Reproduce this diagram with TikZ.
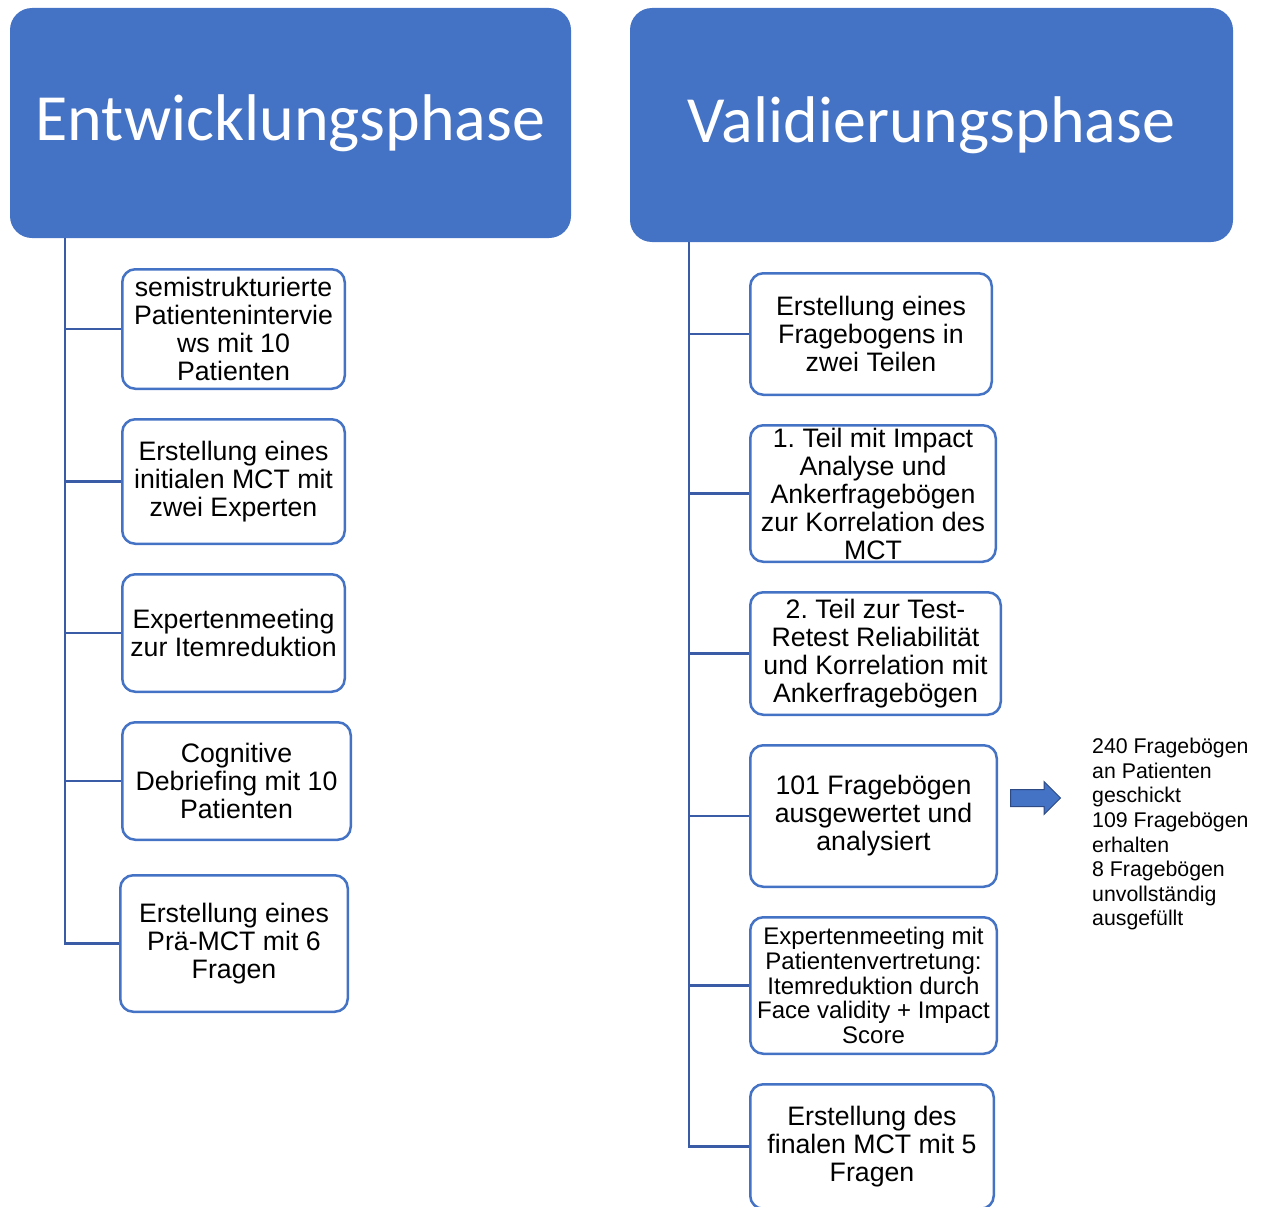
\documentclass[tikz,border=0pt]{standalone}
\usepackage{fontspec}
\setmainfont{Liberation Sans}
\newfontfamily\kopfschrift{Carlito}
\usetikzlibrary{positioning,shapes.arrows}
\definecolor{blau}{HTML}{4472C4}
\definecolor{linienblau}{HTML}{3A5CA6}
\frenchspacing

\begin{document}
\begin{tikzpicture}[
    x=1pt, y=-1pt,
    phase/.style={rectangle, rounded corners=22pt, fill=blau, text=white,
        inner sep=0pt, font=\kopfschrift\fontsize{66}{72}\selectfont},
    schritt/.style={rectangle, rounded corners=13pt, draw=blau, line width=2.5pt,
        fill=white, align=center, inner sep=0pt,
        font=\fontsize{26.7}{28}\selectfont},
    linie/.style={draw=linienblau, line width=2.5pt},
    pfeil/.style={single arrow, single arrow head extend=8pt, fill=blau,
        draw=linienblau!80!black, line width=1pt, inner xsep=0pt, inner ysep=8pt,
        minimum height=50pt},
    notiz/.style={align=left, inner sep=0pt, font=\fontsize{21.3}{24.6}\selectfont}
    ]
\useasboundingbox (0,0) rectangle (1266,1207);

%Entwicklungsphase
\node[phase, minimum width=561pt, minimum height=230pt] (kopfL) at (290.5,123)
    {\raisebox{-5pt}{Entwicklungsphase}};
\node[schritt, minimum width=222.5pt, minimum height=119.5pt] (s1) at (233.5,329)
    {semistrukturierte\\Patientenintervie\\ws mit 10\\Patienten};
\node[schritt, minimum width=222.5pt, minimum height=124.5pt, below=28pt of s1] (s2)
    {Erstellung eines\\initialen MCT mit\\zwei Experten};
\node[schritt, minimum width=222.5pt, minimum height=117.5pt, below=28pt of s2] (s3)
    {Expertenmeeting\\zur Itemreduktion};
\node[schritt, minimum width=228.5pt, minimum height=117.5pt, below=28pt of s3, xshift=3pt] (s4)
    {Cognitive\\Debriefing mit 10\\Patienten};
\node[schritt, minimum width=227.5pt, minimum height=136.5pt, below=33pt of s4, xshift=-2.5pt] (s5)
    {Erstellung eines\\Prä-MCT mit 6\\Fragen};

\coordinate (stammL) at ([xshift=55pt]kopfL.south west);
\foreach \i in {1,...,5}
    \draw[linie] (stammL) |- (s\i.west);

%Validierungsphase
\node[phase, minimum width=603pt, minimum height=234pt] (kopfR) at (931.5,125)
    {\raisebox{-5pt}{Validierungsphase}};
\node[schritt, minimum width=241.5pt, minimum height=121.5pt] (r1) at (871,334)
    {Erstellung eines\\Fragebogens in\\zwei Teilen};
\node[schritt, minimum width=245.5pt, minimum height=136.5pt, below=28pt of r1, xshift=2pt] (r2)
    {1. Teil mit Impact\\Analyse und\\Ankerfragebögen\\zur Korrelation des\\MCT};
\node[schritt, minimum width=250.5pt, minimum height=122.5pt, below=28pt of r2, xshift=2.5pt] (r3)
    {2. Teil zur Test-\\Retest Reliabilität\\und Korrelation mit\\Ankerfragebögen};
\node[schritt, minimum width=246.5pt, minimum height=141.5pt, below=28pt of r3, xshift=-2pt] (r4)
    {101 Fragebögen\\ausgewertet und\\analysiert};
\node[schritt, minimum width=246.5pt, minimum height=136.5pt, below=28pt of r4,
    font=\fontsize{24}{24.8}\selectfont] (r5)
    {Expertenmeeting mit\\Patientenvertretung:\\Itemreduktion durch\\Face validity + Impact\\Score};
\node[schritt, minimum width=243.5pt, minimum height=124.5pt, below=28pt of r5, xshift=-1.5pt] (r6)
    {Erstellung des\\finalen MCT mit 5\\Fragen};

\coordinate (stammR) at ([xshift=59pt]kopfR.south west);
\foreach \i in {1,...,6}
    \draw[linie] (stammR) |- (r\i.west);

%Ruecklauf
\node[pfeil, right=12pt of r4, yshift=18pt] (pf) {};
\node[notiz, anchor=north west] (ruecklauf) at (1092,738)
    {240 Fragebögen\\an Patienten\\geschickt\\109 Fragebögen\\erhalten\\8 Fragebögen\\unvollständig\\ausgefüllt};
\end{tikzpicture}
\end{document}
